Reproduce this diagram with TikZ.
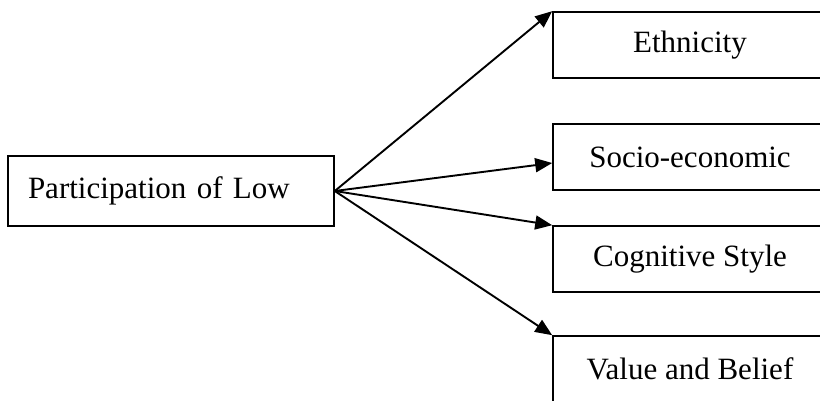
\documentclass[tikz,border=0pt]{standalone}
\usepackage{fontspec}
\setmainfont{Liberation Serif}
\usetikzlibrary{arrows.meta,calc}
\begin{document}
\begin{tikzpicture}[x=1pt,y=-1pt,
  box/.style={draw=black,line width=1.6pt,minimum width=274pt,minimum height=66pt,inner sep=0pt,font=\fontsize{31}{37}\selectfont},
  arr/.style={line width=1.9pt,-{Triangle[length=17pt,width=14pt]}}]
\clip (0,0) rectangle (820,401);
\useasboundingbox (0,0) rectangle (820,401);
\node[box,minimum width=326pt,minimum height=70pt,text width=286pt,align=left] (left) at (171,191) {Participation of Low};
\node[box] (eth) at (690,45) {Ethnicity};
\node[box] (soc) at (690,157) {Socio-economic};
\node[box] (cog) at (690,259) {Cognitive Style};
\node[box] (val) at (690,369) {Value and Belief};
\coordinate (socin) at ($(soc.west)+(0,6)$);
\draw[arr] (left.east) -- (eth.north west);
\draw[arr] (left.east) -- (socin);
\draw[arr] (left.east) -- (cog.north west);
\draw[arr] (left.east) -- (val.north west);
\end{tikzpicture}
\end{document}
